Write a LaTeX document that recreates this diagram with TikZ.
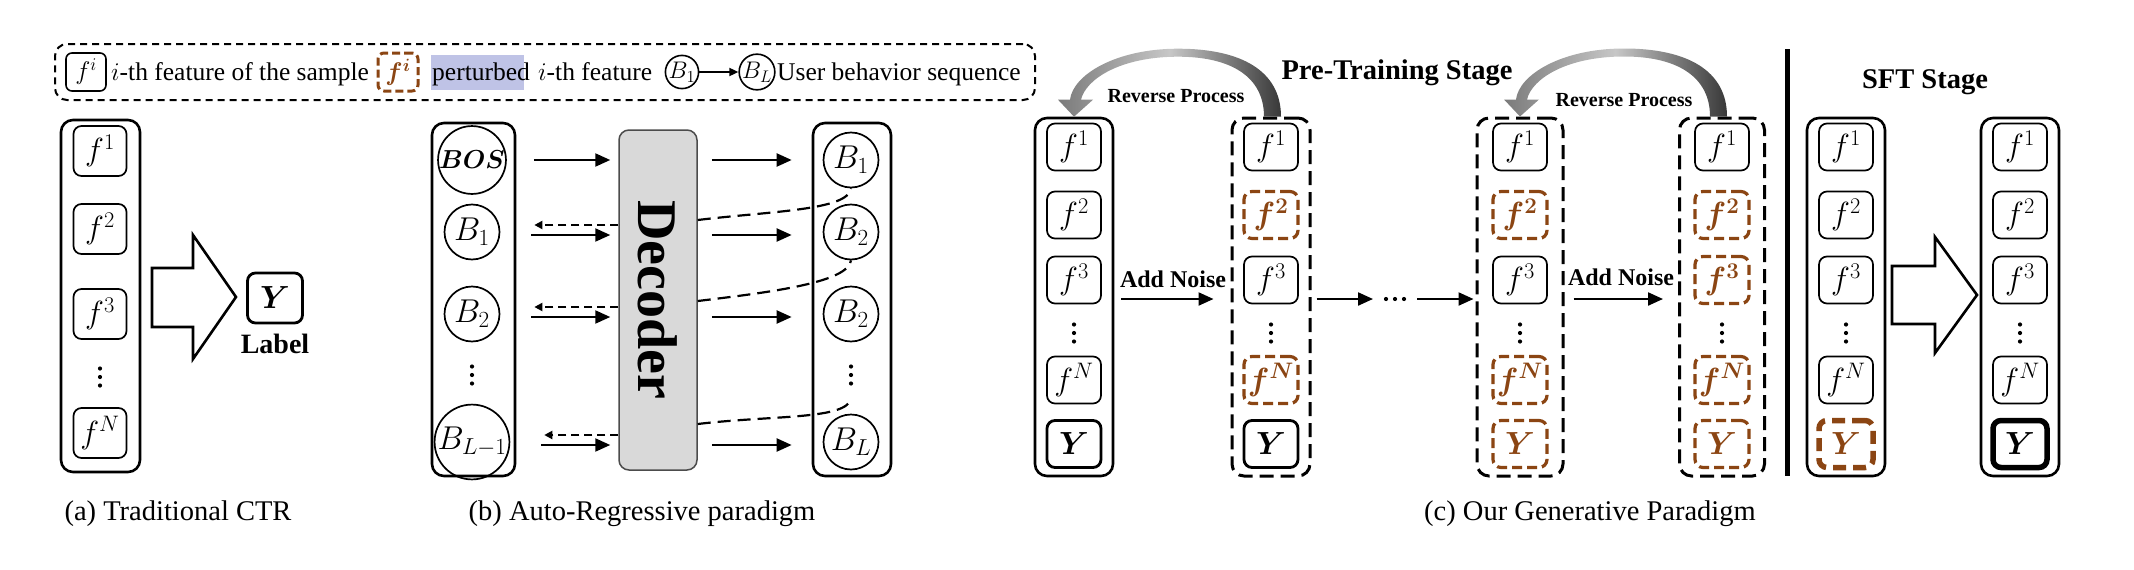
\RequirePackage{fix-cm}
\documentclass[tikz,border=0pt]{standalone}
\usepackage{amsmath}
\usepackage{bm}
\usepackage{fontspec}
\setmainfont{Liberation Serif}
\usetikzlibrary{arrows.meta}
\definecolor{brn}{RGB}{139,69,19}
\definecolor{hlc}{RGB}{191,195,230}
\definecolor{decfill}{RGB}{217,217,217}
\tikzset{
  every node/.style={inner sep=0pt},
  mf/.style={font=\fontsize{32}{34}\selectfont},
  ibox/.style={draw, rounded corners=8pt, line width=1.7pt, minimum width=54pt, minimum height=47pt, mf},
  ybox/.style={ibox, line width=2.8pt},
  yboxT/.style={ibox, line width=5.5pt},
  pbox/.style={ibox, draw=brn, text=brn, line width=3.2pt, dash pattern=on 10pt off 5pt, execute at begin node=\boldmath},
  pboxT/.style={pbox, line width=5.5pt, dash pattern=on 13pt off 7pt},
  colbox/.style={draw, rounded corners=12pt, line width=2.6pt, minimum width=78pt, minimum height=358pt},
  dcolbox/.style={colbox, line width=3pt, dash pattern=on 14pt off 7pt},
  circ/.style={circle, draw, line width=1.7pt, minimum size=55pt, font=\fontsize{33}{35}\selectfont},
  arr/.style={-{Triangle[length=15pt,width=13pt]}, line width=2.2pt},
  darr/.style={-{Triangle[length=8pt,width=8pt]}, line width=2pt, dash pattern=on 8pt off 5pt},
  dcurve/.style={line width=2.2pt, dash pattern=on 13pt off 7pt},
  capf/.style={font=\fontsize{28.5}{32}\selectfont},
  lgf/.style={font=\fontsize{25.5}{28}\selectfont},
  bigarrow/.style={draw, line width=2.6pt, fill=white, line join=miter},
  revsh/.style={left color=black!52, right color=black!78, middle color=black!22},
  rpf/.style={font=\fontsize{20}{22}\selectfont\bfseries},
  anf/.style={font=\fontsize{24}{26}\selectfont\bfseries},
  ttl/.style={font=\fontsize{28.5}{31}\selectfont\bfseries},
}
\newcommand\vdts[1]{\fill (#1) circle (2.1) ++(0,-8.5) circle (2.1) ++(0,17) circle (2.1);}
\newcommand\mkcol[7]{%
  \node[#3] (#1) at (#2,297) {};
  \node[ibox] (#1a) at (#2,147) {$f^{1}$};
  \node[#4] (#1b) at (#2,215) {$f^{2}$};
  \node[#5] (#1c) at (#2,280) {$f^{3}$};
  \coordinate (#1d) at (#2,333);
  \vdts{#1d}
  \node[#6] (#1n) at (#2,380) {$f^{N}$};
  \node[#7] (#1y) at (#2,444) {$\bm{Y}$};
}
\newcommand\revarrow[1]{%
  \shade[revsh, shift={(#1)}] (207,0) .. controls (207,-46) and (167,-68) .. (104,-68) .. controls (42,-68) and (-1,-42) .. (-4,-17) -- (-16,-17) -- (0,0) -- (19,-17) -- (7,-17) .. controls (12,-38) and (47,-60) .. (104,-60) .. controls (157,-60) and (190,-40) .. (190,0) -- cycle;}
\begin{document}
\begin{tikzpicture}[x=1pt,y=-1pt]
\useasboundingbox (0,0) rectangle (2134,570);

% ---------- legend ----------
\node[draw, line width=2pt, dash pattern=on 7pt off 5pt, rounded corners=12pt, minimum width=980pt, minimum height=56pt] (leg) at (545,72) {};
\node[ibox, minimum width=40pt, minimum height=38pt, rounded corners=6pt, line width=1.6pt, lgf] (lgf1) at (86,72) {$f^{i}$};
\node[lgf, anchor=base west] (lgt1) at (111,80) {$i$-th feature of the sample};
\node[pbox, minimum width=40pt, minimum height=38pt, rounded corners=6pt, line width=3pt, dash pattern=on 8pt off 4pt, lgf] (lgf2) at (398,72) {$f^{i}$};
\node[fill=hlc, minimum width=93pt, minimum height=35pt, anchor=west] (lghl) at (431,72) {};
\node[lgf, anchor=base west] (lgt2) at (432,80) {perturbed};
\node[lgf, anchor=base west] (lgt3) at (538,80) {$i$-th feature};
\node[circle, draw, line width=1.6pt, minimum size=28pt, font=\fontsize{24}{26}\selectfont] (lgb1) at (682,72) {$B_1$};
\node[circle, draw, line width=1.6pt, minimum size=28pt, font=\fontsize{24}{26}\selectfont] (lgbl) at (757,72) {$B_L$};
\draw[-{Triangle[length=9pt,width=8pt]}, line width=1.8pt] (lgb1) -- (lgbl);
\node[lgf, anchor=base west] (lgt4) at (777,80) {User behavior sequence};

% ---------- (a) ----------
\node[colbox, minimum width=79pt, minimum height=352pt] (ta) at (100.5,296) {};
\node[ibox, minimum width=53pt, minimum height=50pt] (ta1) at (100,151) {$f^{1}$};
\node[ibox, minimum width=53pt, minimum height=50pt] (ta2) at (100,229) {$f^{2}$};
\node[ibox, minimum width=53pt, minimum height=50pt] (ta3) at (100,314) {$f^{3}$};
\coordinate (tad) at (100,377);
\vdts{tad}
\node[ibox, minimum width=53pt, minimum height=50pt] (tan) at (100,433) {$f^{N}$};
\draw[bigarrow] (152,268) -- (193,268) -- (193,235) -- (236,297) -- (193,359) -- (193,327) -- (152,327) -- cycle;
\node[ybox, minimum width=55pt, minimum height=50pt] (tay) at (275,298) {$\bm{Y}$};
\node[font=\fontsize{28}{30}\selectfont\bfseries] (tal) at (275,344) {Label};
\node[capf] (capa) at (178,514) {(a) Traditional CTR};

% ---------- (b) ----------
\node[colbox, minimum width=83pt, minimum height=353pt] (bl) at (473.5,299.5) {};
\node[circ, font=\fontsize{26}{28}\selectfont] (bos) at (472,160) {$\bm{BOS}$};
\node[circ] (b1) at (472,232) {$B_1$};
\node[circ] (b2) at (472,314) {$B_2$};
\coordinate (bd) at (472,375);
\vdts{bd}
\node[circ] (bl1) at (472,442) {$B_{L-1}$};
\node[draw=black!70, fill=decfill, rounded corners=10pt, line width=1.5pt, minimum width=78pt, minimum height=340pt] (dec) at (658,300) {};
\node[rotate=-90, font=\fontsize{56}{60}\selectfont\bfseries] (decl) at (dec.center) {Decoder};
\node[colbox, minimum width=78pt, minimum height=353pt] (br) at (852,299.5) {};
\node[circ] (r1) at (851,160) {$B_1$};
\node[circ] (r2) at (851,232) {$B_2$};
\node[circ] (r3) at (851,314) {$B_2$};
\coordinate (rd) at (851,375);
\vdts{rd}
\node[circ] (rL) at (851,442) {$B_L$};
\coordinate (c3e) at (851,398);

\draw[arr] ([xshift=27pt]bos.east) -- ([xshift=-8pt]dec.west |- bos.east);
\foreach \n in {b1,b2,bl1}{
  \draw[arr] ([xshift=31pt,yshift=-3pt]\n.east) -- ([xshift=-8pt,yshift=-3pt]dec.west |- \n.east);
  \draw[darr] ([yshift=7pt]dec.west |- \n.east) -- ([xshift=34pt,yshift=7pt]\n.east);
}
\draw[arr] ([xshift=14pt]dec.east |- r1.west) -- ([xshift=-31pt]r1.west);
\foreach \n in {r2,r3,rL}{
  \draw[arr] ([xshift=14pt,yshift=-3pt]dec.east |- \n.west) -- ([xshift=-31pt,yshift=-3pt]\n.west);
}
\draw[dcurve] ([yshift=12pt]dec.east |- b1.east) .. controls +(75,-9) and +(-3,22) .. (r1.south);
\draw[dcurve] ([yshift=13pt]dec.east |- b2.east) .. controls +(75,-9) and +(-3,22) .. (r2.south);
\draw[dcurve] ([yshift=18pt]dec.east |- bl1.east) .. controls +(75,-9) and +(-3,22) .. (c3e);
\node[capf] (capb) at (642,514) {(b) Auto-Regressive paradigm};

% ---------- (c) ----------
\node[ttl] (pts) at (1397,73) {Pre-Training Stage};
\mkcol{c1}{1074}{colbox}{ibox}{ibox}{ibox}{ybox}
\mkcol{c2}{1271}{dcolbox}{pbox}{ibox}{pbox}{ybox}
\mkcol{c3}{1520}{dcolbox,minimum width=86pt}{pbox}{ibox}{pbox}{pbox}
\mkcol{c4}{1722}{dcolbox,minimum width=85pt}{pbox}{pbox}{pbox}{pbox}

\revarrow{c1.north}
\revarrow{c3.north}
\node[rpf] (rp1) at (1176,96) {Reverse Process};
\node[rpf] (rp2) at (1624,100) {Reverse Process};

\node[anf] (an1) at (1173,279) {Add Noise};
\node[anf] (an2) at (1621,277) {Add Noise};
\coordinate (cd) at (1395,299);
\fill (cd) circle (2.1) ++(-9,0) circle (2.1) ++(18,0) circle (2.1);
\draw[arr] ([xshift=7pt,yshift=-2pt]c1.east) -- ([xshift=-17pt,yshift=-2pt]c2.west);
\draw[arr] ([xshift=5pt,yshift=-2pt]c2.east) -- ([xshift=-22pt]cd);
\draw[arr] ([xshift=22pt]cd) -- ([xshift=-2pt,yshift=-2pt]c3.west);
\draw[arr] ([xshift=9pt,yshift=-2pt]c3.east) -- ([xshift=-15pt,yshift=-2pt]c4.west);
\node[capf] (capc) at (1590,514) {(c) Our Generative Paradigm};

% ---------- separator + SFT ----------
\coordinate (s1) at (1787,49);
\coordinate (s2) at (1787,476);
\draw[line width=5pt] (s1) -- (s2);
\node[ttl] (sft) at (1925,82) {SFT Stage};
\mkcol{c5}{1846}{colbox}{ibox}{ibox}{ibox}{pboxT}
\mkcol{c6}{2020}{colbox}{ibox}{ibox}{ibox}{yboxT}
\draw[bigarrow] (1892,266) -- (1935,266) -- (1935,237) -- (1977,295) -- (1935,353) -- (1935,324) -- (1892,324) -- cycle;
\end{tikzpicture}
\end{document}
